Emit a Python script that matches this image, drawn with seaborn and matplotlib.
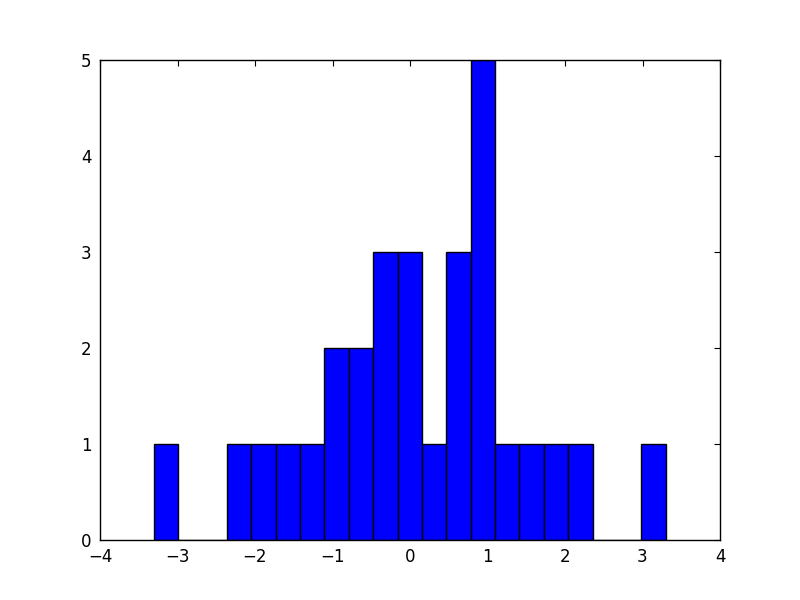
import numpy as np
import pandas as pd
import seaborn as sns
import matplotlib
matplotlib.use("Agg")
import matplotlib.pyplot as plt

# histogram: 21 equal bins from -3.307 to 3.299
bin_lo = -3.307
bin_hi = 3.299
counts = [1, 0, 0, 1, 1, 1, 1, 2, 2, 3, 3, 1, 3, 5, 1, 1, 1, 1, 0, 0, 1]

edges = np.linspace(bin_lo, bin_hi, len(counts) + 1)
centers = (edges[:-1] + edges[1:]) / 2
data = pd.DataFrame({'x': centers, 'count': counts})

sns.set_style('white')
plt.rcParams['font.family'] = ['DejaVu Sans']

fig, ax = plt.subplots(figsize=(8, 6), dpi=100)
fig.subplots_adjust(left=0.125, right=0.9, bottom=0.1, top=0.9)

sns.histplot(data=data, x='x', weights='count', bins=list(edges), ax=ax,
             color='#0000ff', alpha=1.0, edgecolor='black', linewidth=1.0)

ax.set_xlim(-4, 4)
ax.set_ylim(0, 5)
ax.set_xticks(range(-4, 5))
ax.set_yticks(range(0, 6))
ax.set_xticklabels(['\u2212' + str(-v) if v < 0 else str(v) for v in range(-4, 5)])
ax.set_xlabel('')
ax.set_ylabel('')
ax.tick_params(direction='in', top=True, right=True, length=4, width=0.8,
               labelsize=12, pad=6, colors='black')
for s in ax.spines.values():
    s.set_visible(True)
    s.set_color('black')
    s.set_linewidth(1.0)

plt.savefig('out.png', dpi=100)
